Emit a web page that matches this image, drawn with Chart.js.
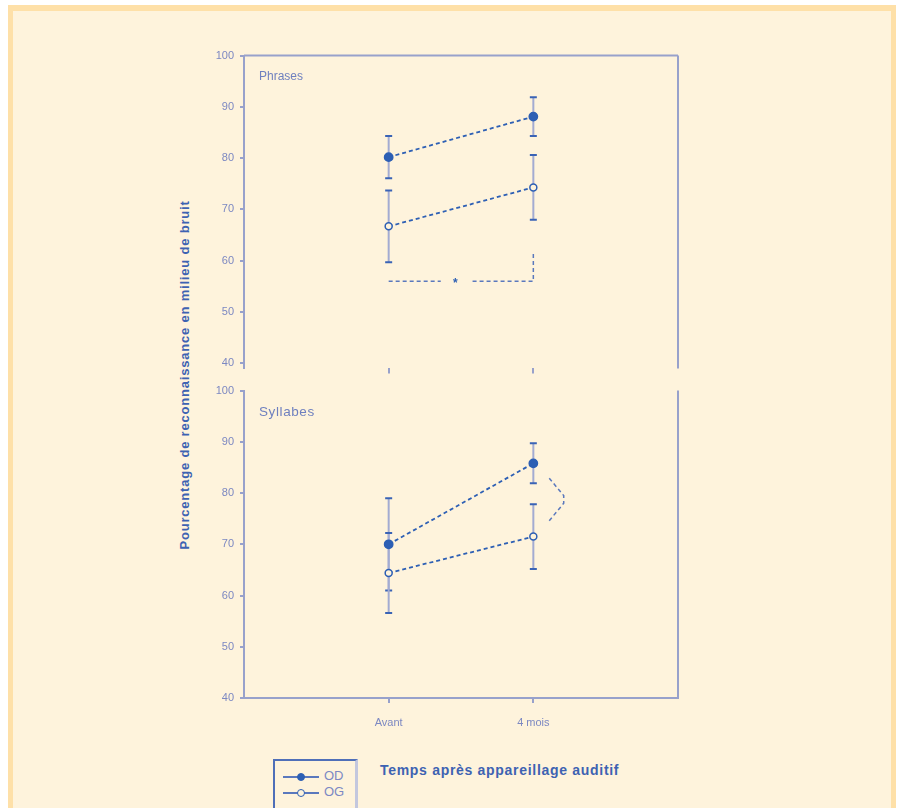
<!DOCTYPE html>
<html>
<head>
<meta charset="utf-8">
<script src="https://cdn.jsdelivr.net/npm/chart.js@4.4.0/dist/chart.umd.min.js"></script>
<style>
  body { margin: 0; background: #fff; width: 902px; height: 808px; overflow: hidden; font-family: "Liberation Sans", Arial, sans-serif; }
  #frame { position: absolute; left: 8px; top: 5px; width: 878px; height: 810px; background: #fef3dc;
           border-left: 5px solid #fee0a8; border-right: 5px solid #fee0a8; border-top: 6px solid #fee0a8; }
  canvas { position: absolute; }
  .txt { position: absolute; color: #6f80bf; white-space: nowrap; }
  #ytitle { position: absolute; left: 184px; top: 375px; transform: translate(-50%, -50%) rotate(-90deg);
            color: #3d62b2; font-weight: bold; font-size: 13px; letter-spacing: 0.8px; white-space: nowrap; }
  #xtitle { position: absolute; left: 380px; top: 762px; color: #3d62b2; font-weight: bold; font-size: 14px; letter-spacing: 0.7px; white-space: nowrap; }
  #legend { position: absolute; left: 273px; top: 759px; width: 80px; height: 60px;
            border-top: 2px solid #4f6fb8; border-left: 2px solid #4f6fb8; border-right: 3px solid #c3c7de; }
  .lg-line { position: absolute; left: 8px; width: 36px; height: 0; border-top: 2px solid #5a78bd; }
  .lg-mark { position: absolute; width: 6px; height: 6px; border: 1.5px solid #2d5fb4; border-radius: 50%; }
  .lg-txt { position: absolute; left: 49px; color: #7b88c4; font-size: 13px; }
</style>
</head>
<body>
<div id="frame"></div>
<canvas id="top" width="500" height="338" style="left:196px; top:43px;"></canvas>
<canvas id="bottom" width="500" height="360" style="left:196px; top:378px;"></canvas>

<div class="txt" style="left:259px; top:69px; font-size:12px;">Phrases</div>
<div class="txt" style="left:259px; top:404px; font-size:13.5px; letter-spacing:0.6px;">Syllabes</div>
<div id="ytitle">Pourcentage de reconnaissance en milieu de bruit</div>
<div id="xtitle">Temps après appareillage auditif</div>
<div id="legend">
  <div class="lg-line" style="top:15px;"></div>
  <div class="lg-mark" style="left:22px; top:12px; background:#2d5fb4;"></div>
  <div class="lg-txt" style="top:7px;">OD</div>
  <div class="lg-line" style="top:31px;"></div>
  <div class="lg-mark" style="left:22px; top:28px; background:#fef3dc;"></div>
  <div class="lg-txt" style="top:23px;">OG</div>
</div>

<script>
const timePoints = [1, 2];
const timeLabels = ['Avant', '4 mois'];
const yTicks = [40, 50, 60, 70, 80, 90, 100];

// Phrases (haut)
const phrasesOD = [80.2, 88.1];
const phrasesODErr = [4.1, 3.8];
const phrasesOG = [66.7, 74.3];
const phrasesOGErr = [7.0, 6.3];
const phrasesBracket = [
  { x: 1, y: 56 }, { x: 1.36, y: 56 }, { x: 1.47, y: null },
  { x: 1.58, y: 56 }, { x: 2, y: 56 }, { x: 2, y: 61.3 }
];
const phrasesStar = { x: 1.46, y: 56 };

// Syllabes (bas)
const syllabesOD = [70.0, 85.8];
const syllabesODErr = [9.0, 3.9];
const syllabesOG = [64.4, 71.5];
const syllabesOGErr = [7.8, 6.3];
const syllabesBracket = [
  { x: 2.11, y: 82.9 }, { x: 2.21, y: 79.5 }, { x: 2.21, y: 78.0 }, { x: 2.11, y: 74.6 }
];

const axisColor = '#98a1cb';
const tickColor = '#7c88c2';
const lineColor = '#2d5fb4';
const bg = '#fef3dc';

// barres d'erreur + cadre + étoile
const errorBars = {
  id: 'errorBars',
  beforeDatasetsDraw(chart) {
    const ctx = chart.ctx, xs = chart.scales.x, ys = chart.scales.y;
    chart.data.datasets.forEach((ds) => {
      if (!ds.errors) return;
      ds.data.forEach((p, i) => {
        const px = xs.getPixelForValue(p.x);
        const hi = ys.getPixelForValue(p.y + ds.errors[i]);
        const lo = ys.getPixelForValue(p.y - ds.errors[i]);
        ctx.save();
        ctx.strokeStyle = '#a3abd2';
        ctx.lineWidth = 2;
        ctx.beginPath(); ctx.moveTo(px, hi); ctx.lineTo(px, lo); ctx.stroke();
        ctx.strokeStyle = '#3a63b5';
        ctx.beginPath();
        ctx.moveTo(px - 3.5, hi); ctx.lineTo(px + 3.5, hi);
        ctx.moveTo(px - 3.5, lo); ctx.lineTo(px + 3.5, lo);
        ctx.stroke();
        ctx.restore();
      });
    });
  },
  afterDraw(chart, args, opts) {
    const ctx = chart.ctx, a = chart.chartArea;
    ctx.save();
    ctx.strokeStyle = axisColor;
    ctx.lineWidth = 2;
    ctx.beginPath();
    if (opts.topLine) { ctx.moveTo(a.left, a.top); ctx.lineTo(a.right, a.top); }
    ctx.moveTo(a.right, a.top); ctx.lineTo(a.right, a.bottom);
    ctx.stroke();
    if (opts.star) {
      ctx.fillStyle = lineColor;
      ctx.font = 'bold 12px "Liberation Sans", Arial, sans-serif';
      ctx.textAlign = 'center';
      ctx.textBaseline = 'middle';
      ctx.fillText('*', chart.scales.x.getPixelForValue(opts.star.x), chart.scales.y.getPixelForValue(opts.star.y) + 2);
    }
    ctx.restore();
  }
};

function makeChart(id, od, odErr, og, ogErr, bracket, star, bottomPanel) {
  const ctx = document.getElementById(id).getContext('2d');
  return new Chart(ctx, {
    type: 'line',
    data: {
      datasets: [
        {
          label: 'OD',
          data: timePoints.map((x, i) => ({ x, y: od[i] })),
          errors: odErr,
          borderColor: lineColor, borderWidth: 1.8, borderDash: [4, 3],
          pointRadius: 4, pointBackgroundColor: lineColor, pointBorderColor: lineColor,
        },
        {
          label: 'OG',
          data: timePoints.map((x, i) => ({ x, y: og[i] })),
          errors: ogErr,
          borderColor: lineColor, borderWidth: 1.8, borderDash: [4, 3],
          pointRadius: 3.5, pointBorderWidth: 1.5, pointBackgroundColor: bg, pointBorderColor: lineColor,
        },
        {
          label: 'signif',
          data: bracket,
          borderColor: '#5a78bd', borderWidth: 1.5, borderDash: [4, 3],
          pointRadius: 0, spanGaps: false,
        },
      ],
    },
    options: {
      responsive: false,
      animation: false,
      layout: { padding: { top: 10, right: 18, left: 0, bottom: 0 } },
      plugins: {
        legend: { display: false },
        tooltip: { enabled: false },
        errorBars: { topLine: !bottomPanel, star: star },
      },
      scales: {
        x: {
          type: 'linear', min: 0, max: 3,
          afterBuildTicks: (s) => { s.ticks = timePoints.map((v) => ({ value: v })); },
          ticks: {
            display: bottomPanel,
            callback: (v) => timeLabels[timePoints.indexOf(v)],
            color: tickColor, font: { size: 11, family: '"Liberation Sans", Arial' }, padding: 13,
          },
          grid: { drawOnChartArea: false, drawTicks: true, tickLength: 5, color: axisColor, lineWidth: 2 },
          border: { display: bottomPanel, color: axisColor, width: 2 },
          afterFit: (s) => { s.height = bottomPanel ? 40 : 7; },
        },
        y: {
          min: bottomPanel ? 40 : 39, max: 100,
          afterBuildTicks: (s) => { s.ticks = yTicks.map((v) => ({ value: v })); },
          ticks: { color: tickColor, font: { size: 11, family: '"Liberation Sans", Arial' }, padding: 6 },
          grid: { drawOnChartArea: false, drawTicks: true, tickLength: 4, color: axisColor, lineWidth: 2 },
          border: { color: axisColor, width: 2 },
          afterFit: (s) => { s.width = 48; },
        },
      },
    },
    plugins: [errorBars],
  });
}

makeChart('top', phrasesOD, phrasesODErr, phrasesOG, phrasesOGErr, phrasesBracket, phrasesStar, false);
makeChart('bottom', syllabesOD, syllabesODErr, syllabesOG, syllabesOGErr, syllabesBracket, null, true);
</script>
</body>
</html>
